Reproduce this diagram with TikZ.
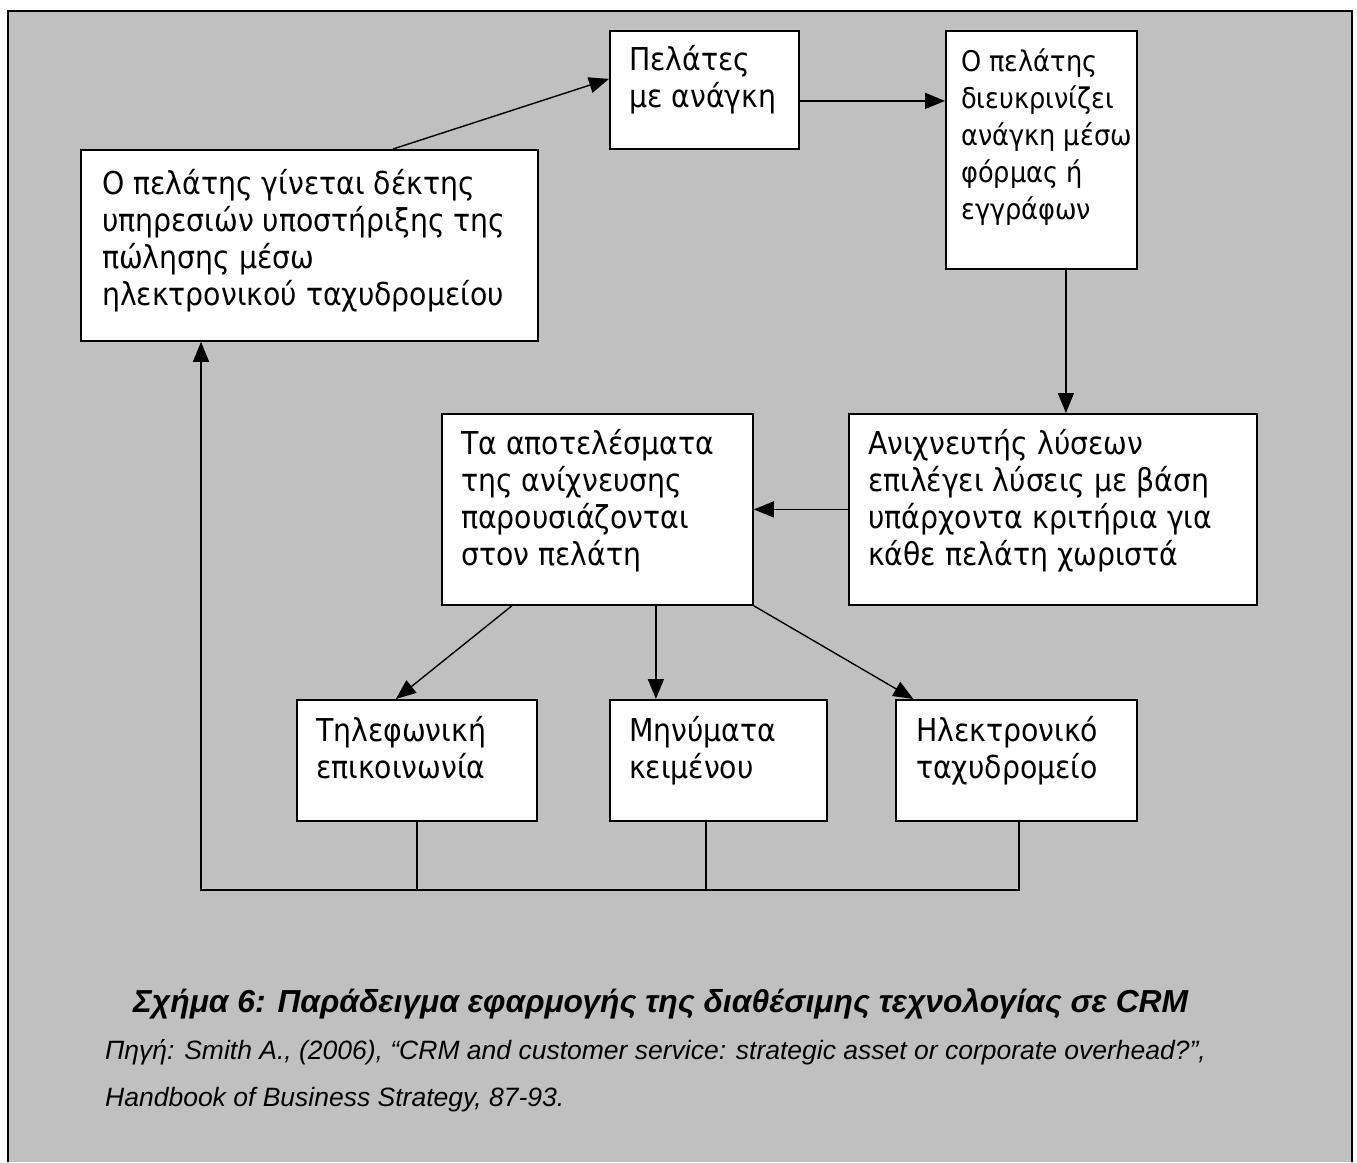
\documentclass[tikz,border=0pt]{standalone}
\usepackage{fontspec}
\usetikzlibrary{arrows.meta}
\newfontfamily\boxfont{DejaVu Sans Condensed}
\newfontfamily\capfont{Liberation Sans}
\definecolor{bggray}{HTML}{C0C0C0}
\newcommand\fstr{\rule{0pt}{30pt}}
\tikzset{
  box/.style={draw, fill=white, line width=1.8pt, inner sep=0pt, anchor=north west},
  btext/.style={anchor=north west, inner sep=0pt, align=left, font=\boxfont\fontsize{31.5}{37}\selectfont},
  arr/.style={line width=1.4pt, -{Triangle[length=20pt,width=16pt]}},
  conn/.style={line width=1.4pt},
  captxt/.style={anchor=base west, inner sep=0pt},
}
\begin{document}
\begin{tikzpicture}[x=1pt,y=-1pt]
\useasboundingbox (0,0) rectangle (1357,1162);
\fill[bggray] (8,11) rectangle (1352,1162);
\draw[line width=2.5pt] (8,1162) -- (8,11) -- (1352,11) -- (1352,1162);

% boxes
\node[box, minimum width=457pt, minimum height=191pt] (A) at (80,149) {};
\node[box, minimum width=189pt, minimum height=118pt] (B) at (609,30) {};
\node[box, minimum width=191pt, minimum height=238pt] (C) at (945,30) {};
\node[box, minimum width=408pt, minimum height=191pt] (D) at (848,413) {};
\node[box, minimum width=311pt, minimum height=191pt] (E) at (441,413) {};
\node[box, minimum width=240pt, minimum height=121pt] (F) at (296,699) {};
\node[box, minimum width=217pt, minimum height=121pt] (G) at (609,699) {};
\node[box, minimum width=241pt, minimum height=121pt] (H) at (895,699) {};

% texts
\node[btext] (At) at (102,164) {\fstr Ο πελάτης γίνεται δέκτης\\υπηρεσιών υποστήριξης της\\πώλησης μέσω\\ηλεκτρονικού ταχυδρομείου};
\node[btext] (Bt) at (629,40) {\fstr Πελάτες\\με ανάγκη};
\node[btext, font=\boxfont\fontsize{28.5}{37}\selectfont] (Ct) at (961,41) {\fstr Ο πελάτης\\διευκρινίζει\\ανάγκη μέσω\\φόρμας ή\\εγγράφων};
\node[btext] (Dt) at (868,424) {\fstr Ανιχνευτής λύσεων\\επιλέγει λύσεις με βάση\\υπάρχοντα κριτήρια για\\κάθε πελάτη χωριστά};
\node[btext] (Et) at (461,424) {\fstr Τα αποτελέσματα\\της ανίχνευσης\\παρουσιάζονται\\στον πελάτη};
\node[btext] (Ft) at (316,711) {\fstr Τηλεφωνική\\επικοινωνία};
\node[btext] (Gt) at (629,711) {\fstr Μηνύματα\\κειμένου};
\node[btext] (Ht) at (916,711) {\fstr Ηλεκτρονικό\\ταχυδρομείο};

% arrows
\draw[arr] ([xshift=313pt]A.north west) -- ([yshift=11pt]B.west);
\draw[arr] ([yshift=-11pt]B.east) -- ([yshift=-11pt]B.east -| C.west);
\draw[arr] ([xshift=24.5pt]C.south) -- ([xshift=24.5pt]C.south |- D.north);
\draw[arr] (D.west) -- (D.west -| E.east);
\draw[arr] ([xshift=-85.5pt]E.south) -- ([xshift=-21pt]F.north);
\draw[arr] ([xshift=58.5pt]E.south) -- ([xshift=58.5pt]E.south |- G.north);
\draw[arr] (E.south east) -- ([xshift=-103pt]H.north);

% feedback
\coordinate (fb) at (201,890);
\draw[conn] (F.south) -- (F.south |- fb);
\draw[conn] ([xshift=-12.5pt]G.south) -- ([xshift=-12.5pt]G.south |- fb);
\draw[arr] ([xshift=2.5pt]H.south) |- (fb) -- (fb |- A.south);

% caption
\node[captxt, font=\capfont\bfseries\itshape\fontsize{31.8}{36}\selectfont] (cap) at (133,1012) {Σχήμα 6: Παράδειγμα εφαρμογής της διαθέσιμης τεχνολογίας σε CRM};
\node[captxt, font=\capfont\itshape\fontsize{26.5}{30}\selectfont] (src1) at (105,1059) {Πηγή: Smith A., (2006), “CRM and customer service: strategic asset or corporate overhead?”,};
\node[captxt, font=\capfont\itshape\fontsize{26.5}{30}\selectfont] (src2) at (105,1106) {Handbook of Business Strategy, 87-93.};
\end{tikzpicture}
\end{document}
